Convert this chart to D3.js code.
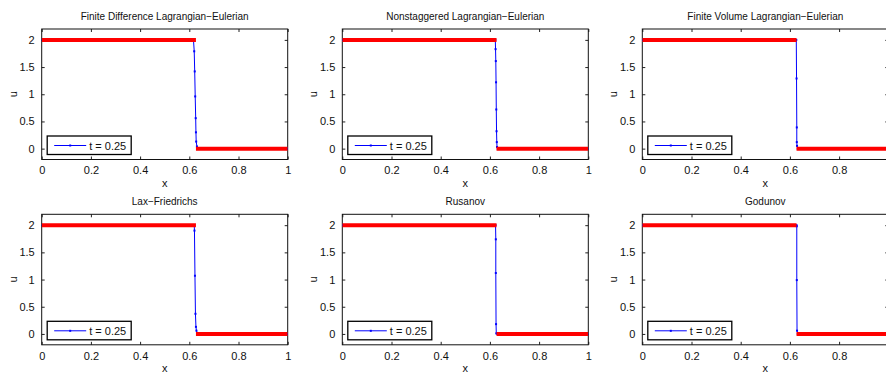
<!doctype html>
<html lang="en">
<head>
  <title>Burgers shock, t = 0.25</title>
  <script src="https://d3js.org/d3.v7.min.js"></script>
  <style>
    body {
      margin: 0px;
      background: #ffffff;
    }

    text {
        font-family: "Liberation Sans", Arial, sans-serif;
        fill: #111111;
    }

    .tick line {
        stroke: #222222;
    }

    .domain {
        display: none;
    }
  </style>
</head>
<body>
    <div id="container"></div>

    <script>
        // panel titles, in reading order
        var titles = [
            "Finite Difference Lagrangian\u2212Eulerian",
            "Nonstaggered Lagrangian\u2212Eulerian",
            "Finite Volume Lagrangian\u2212Eulerian",
            "Lax\u2212Friedrichs",
            "Rusanov",
            "Godunov"
        ];

        var xTicks = [0, 0.2, 0.4, 0.6, 0.8, 1];
        var yTicks = [0, 0.5, 1, 1.5, 2];
        var legendLabel = "t = 0.25";

        // exact solution (red), null breaks the line at the shock
        var exactX = [0, 0.627, null, 0.627, 1];
        var exactU = [2, 2, null, 0, 0];

        // numerical solutions (blue)
        var fdleX = [0, 0.617, 0.620, 0.622, 0.624, 0.626, 0.627, 0.628, 0.631, 0.637, 1];
        var fdleU = [2, 2, 1.79, 1.42, 0.96, 0.56, 0.30, 0.13, 0.04, 0.0, 0];

        var nsleX = [0, 0.622, 0.623, 0.624, 0.625, 0.626, 0.627, 0.628, 0.629, 0.632, 1];
        var nsleU = [2, 2, 1.83, 1.61, 1.22, 0.72, 0.32, 0.12, 0.03, 0, 0];

        var fvleX = [0, 0.626, 0.627, 0.628, 0.628, 0.629, 0.632, 1];
        var fvleU = [2, 2, 1.29, 0.39, 0.12, 0.05, 0, 0];

        var lxfX = [0, 0.620, 0.621, 0.623, 0.625, 0.627, 0.629, 0.633, 1];
        var lxfU = [2, 2, 1.90, 1.07, 0.37, 0.13, 0.06, 0, 0];

        var rusX = [0, 0.623, 0.624, 0.624, 0.625, 0.626, 0.630, 1];
        var rusU = [2, 2, 1.74, 1.12, 0.18, 0.01, 0, 0];

        var godX = [0, 0.627, 0.628, 0.628, 0.629, 0.632, 1];
        var godU = [2, 2, 1.98, 0.99, 0.06, 0, 0];

        var seriesX = [fdleX, nsleX, fvleX, lxfX, rusX, godX];
        var seriesU = [fdleU, nsleU, fvleU, lxfU, rusU, godU];

        var colLeft = [41.7, 342.3, 642.3];
        var rowTop = [29, 214.3];
        var pw = 246, ph = 130.5;
        var W = 886, H = 374;

        var svg = d3.select('div#container').append('svg')
            .attr('width', W)
            .attr('height', H);

        function zip(xs, us) {
            return xs.map(function (x, i) { return {x: x, u: us[i]}; });
        }

        titles.forEach(function (title, k) {
            var col = k % 3, row = Math.floor(k / 3);

            var x = d3.scaleLinear().domain([0, 1]).range([0, pw]);
            var y = d3.scaleLinear().domain([-0.2, 2.2]).range([ph, 0]);

            var g = svg.append("g")
                .attr("transform", "translate(" + colLeft[col] + "," + rowTop[row] + ")");

            g.append("defs").append("clipPath")
                .attr("id", "clip" + k)
                .append("rect")
                    .attr("width", pw)
                    .attr("height", ph);

            // the right-most column runs past the window edge, like the original
            var shownX = xTicks.filter(function (t) { return colLeft[col] + x(t) + 4 < W; });

            // bottom + left axes with labels, ticks pointing inward
            g.append("g")
                .attr("transform", "translate(0," + ph + ")")
                .call(d3.axisBottom(x).tickValues(shownX).tickSizeInner(-3).tickSizeOuter(0)
                        .tickPadding(7).tickFormat(d3.format("~g")))
                .selectAll("text").style("font-size", "11px").attr("fill", "#111");

            g.append("g")
                .call(d3.axisLeft(y).tickValues(yTicks).tickSizeInner(-3).tickSizeOuter(0)
                        .tickPadding(7).tickFormat(d3.format("~g")))
                .selectAll("text").style("font-size", "11px").attr("fill", "#111");

            // top + right ticks (box)
            g.append("g")
                .call(d3.axisTop(x).tickValues(xTicks).tickSizeInner(-3).tickSizeOuter(0).tickFormat(""));
            g.append("g")
                .attr("transform", "translate(" + pw + ",0)")
                .call(d3.axisRight(y).tickValues(yTicks).tickSizeInner(-3).tickSizeOuter(0).tickFormat(""));

            g.append("rect")
                .attr("width", pw)
                .attr("height", ph)
                .attr("fill", "none")
                .attr("stroke", "#111")
                .attr("stroke-width", 1);

            var line = d3.line()
                .defined(function (d) { return d.x !== null; })
                .x(function (d) { return x(d.x); })
                .y(function (d) { return y(d.u); });

            var plot = g.append("g").attr("clip-path", "url(#clip" + k + ")");

            var num = zip(seriesX[k], seriesU[k]);

            plot.append("path")
                .datum(num)
                .attr("d", line)
                .attr("fill", "none")
                .attr("stroke", "#0000ff")
                .attr("stroke-width", 1);

            plot.selectAll("rect.dot")
                .data(num)
                .enter()
                .append("rect")
                    .attr("class", "dot")
                    .attr("x", function (d) { return x(d.x) - 1; })
                    .attr("y", function (d) { return y(d.u) - 1; })
                    .attr("width", 2)
                    .attr("height", 2)
                    .attr("fill", "#0000ff");

            plot.append("path")
                .datum(zip(exactX, exactU))
                .attr("d", line)
                .attr("fill", "none")
                .attr("stroke", "#ff0000")
                .attr("stroke-width", 4);

            // legend
            var lg = g.append("g")
                .attr("transform", "translate(5.5," + (ph - 23.5) + ")");
            lg.append("rect")
                .attr("width", 84)
                .attr("height", 18.5)
                .attr("fill", "#fff")
                .attr("stroke", "#000")
                .attr("stroke-width", 1.3);
            lg.append("line")
                .attr("x1", 7).attr("x2", 39)
                .attr("y1", 9.5).attr("y2", 9.5)
                .attr("stroke", "#0000ff")
                .attr("stroke-width", 1);
            lg.append("rect")
                .attr("x", 22).attr("y", 8.5)
                .attr("width", 2).attr("height", 2)
                .attr("fill", "#0000ff");
            lg.append("text")
                .attr("x", 42)
                .attr("y", 13.5)
                .style("font-size", "11px")
                .text(legendLabel);

            g.append("text")
                .attr("x", pw / 2)
                .attr("y", -9)
                .style("text-anchor", "middle")
                .style("font-size", "10px")
                .text(title);

            g.append("text")
                .attr("x", pw / 2)
                .attr("y", ph + 27)
                .style("text-anchor", "middle")
                .style("font-size", "11px")
                .text("x");

            g.append("text")
                .attr("transform", "translate(-25," + (ph / 2) + ") rotate(-90)")
                .style("text-anchor", "middle")
                .style("font-size", "11px")
                .text("u");
        });
    </script>
</body>
</html>
